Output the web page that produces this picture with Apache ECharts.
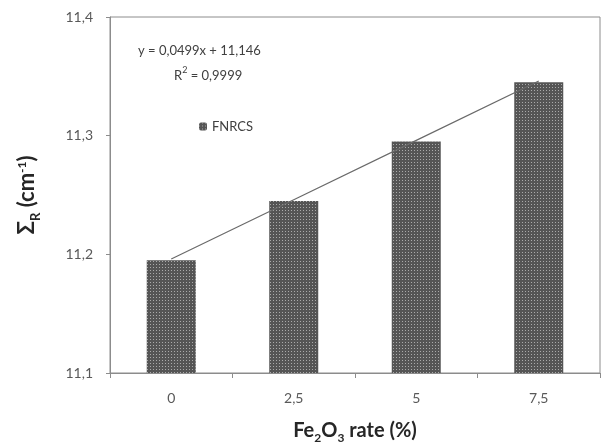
<!DOCTYPE html>
<html>
<head>
<meta charset="utf-8">
<script src="https://cdn.jsdelivr.net/npm/echarts@6/dist/echarts.min.js"></script>
<style>
  html, body { margin: 0; padding: 0; background: #fff; }
  #chart { width: 601px; height: 443px; }
</style>
</head>
<body>
<div id="chart"></div>
<script>
// Fe2O3 rate categories
const categories = ['0', '2,5', '5', '7,5'];
// Sigma R values
const sigmaR = [11.195, 11.245, 11.295, 11.345];
// trend line values
const trendValues = [11.196, 11.246, 11.296, 11.346];
const yTicks = [11.1, 11.2, 11.3, 11.4];

const FONT = 'Lato, "Liberation Sans", sans-serif';

const chart = echarts.init(document.getElementById('chart'));

const option = {
  animation: false,
  grid: {
    left: 110,
    right: 1,
    top: 17,
    bottom: 70,
    outerBoundsMode: 'none',
    show: true,
    borderColor: '#8c8c8c',
    borderWidth: 1
  },
  legend: {
    data: ['FNRCS'],
    left: 194,
    top: 115,
    itemWidth: 8,
    itemHeight: 8,
    itemGap: 4,
    textStyle: { color: '#404040', fontSize: 13, fontFamily: FONT }
  },
  xAxis: {
    type: 'category',
    data: categories,
    axisLine: { lineStyle: { color: '#8c8c8c' } },
    axisTick: { show: true, length: 5, lineStyle: { color: '#8c8c8c' } },
    axisLabel: { color: '#595959', fontSize: 14, margin: 18, fontFamily: FONT },
    name: '{b|Fe}{s|2}{b|O}{s|3}{b| rate (%)}',
    nameLocation: 'middle',
    nameGap: 46,
    nameTextStyle: {
      rich: {
        b: { fontSize: 20, fontWeight: 'bold', color: '#262626', fontFamily: FONT, lineHeight: 22, verticalAlign: 'bottom' },
        s: { fontSize: 12, fontWeight: 'bold', color: '#262626', fontFamily: FONT, lineHeight: 22, verticalAlign: 'bottom', padding: [0, 0, -3, 0] }
      }
    }
  },
  yAxis: {
    type: 'value',
    min: 11.1,
    max: 11.4,
    interval: 0.1,
    splitLine: { show: false },
    axisLine: { show: true, lineStyle: { color: '#8c8c8c' } },
    axisTick: { show: true, length: 4, lineStyle: { color: '#8c8c8c' } },
    axisLabel: {
      color: '#595959',
      fontSize: 14,
      margin: 17,
      fontFamily: FONT,
      formatter: function (v) {
        return v.toFixed(1).replace('.', ',');
      }
    },
    name: '{b|\u03A3}{s|R}{b| (cm}{p|-1}{b|)}',
    nameLocation: 'middle',
    nameGap: 72,
    nameRotate: 90,
    nameTextStyle: {
      rich: {
        b: { fontSize: 22, fontWeight: 'bold', color: '#262626', fontFamily: FONT, lineHeight: 24, verticalAlign: 'bottom' },
        s: { fontSize: 13, fontWeight: 'bold', color: '#262626', fontFamily: FONT, lineHeight: 24, verticalAlign: 'bottom', padding: [0, 0, -4, 0] },
        p: { fontSize: 12, fontWeight: 'bold', color: '#262626', fontFamily: FONT, lineHeight: 24, verticalAlign: 'top', padding: [2, 0, 0, 0] }
      }
    }
  },
  graphic: [
    {
      type: 'text',
      left: 138,
      top: 44,
      style: { text: 'y = 0,0499x + 11,146', fill: '#404040', font: '13px ' + FONT }
    },
    {
      type: 'text',
      left: 174,
      top: 66,
      style: {
        text: '{a|R}{p|2}{a| = 0,9999}',
        rich: {
          a: { fontSize: 13, fill: '#404040', fontFamily: FONT, lineHeight: 16, verticalAlign: 'bottom' },
          p: { fontSize: 9, fill: '#404040', fontFamily: FONT, lineHeight: 16, verticalAlign: 'top' }
        }
      }
    }
  ],
  series: [
    {
      name: 'FNRCS',
      type: 'bar',
      data: sigmaR,
      barWidth: 49,
      itemStyle: {
        color: '#555555',
        decal: {
          symbol: 'rect',
          symbolSize: 1,
          color: 'rgba(255,255,255,0.5)',
          dashArrayX: [1, 2],
          dashArrayY: [1, 2],
          rotation: 0
        }
      }
    },
    {
      name: 'trend',
      type: 'line',
      data: trendValues,
      showSymbol: false,
      symbol: 'none',
      lineStyle: { color: '#6a6a6a', width: 1.2 },
      z: 5
    }
  ]
};

chart.setOption(option);
</script>
</body>
</html>
